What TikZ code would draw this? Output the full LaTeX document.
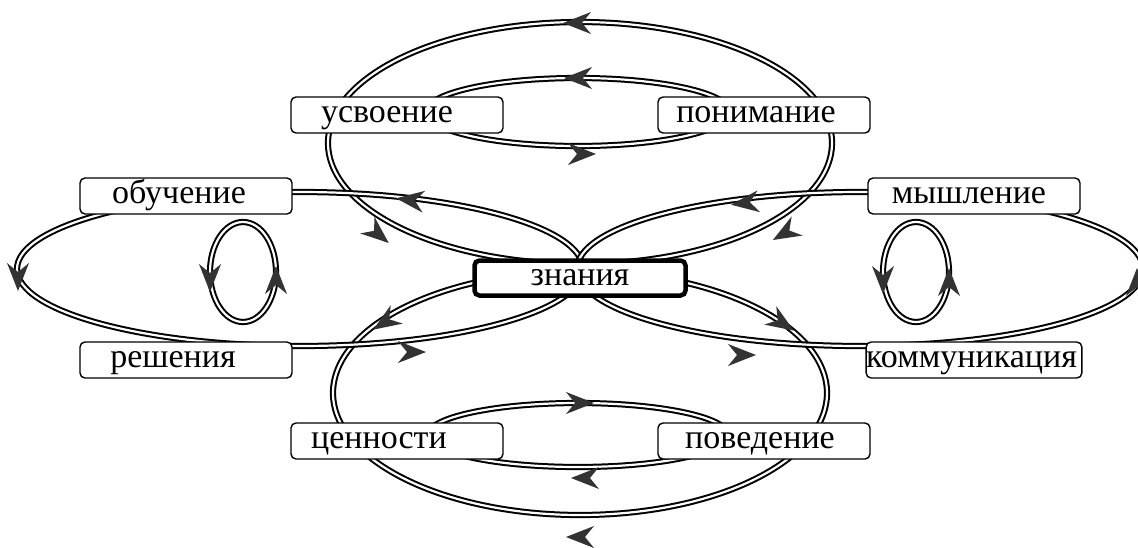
\documentclass[tikz,border=0pt]{standalone}
\usepackage{fontspec}
\setmainfont{Liberation Serif}
\usetikzlibrary{backgrounds}
\definecolor{arrowgray}{HTML}{333333}
\tikzset{
  dbl/.style={draw=black, line width=2pt, double=white, double distance=2.2pt},
  box/.style={draw=black, fill=white, rounded corners=5pt, line width=1.4pt,
    minimum width=212pt, minimum height=36pt, inner sep=0pt,
    text height=22pt, text depth=8pt,
    font=\fontsize{34}{38}\selectfont},
  mainbox/.style={box, line width=4.5pt, minimum width=211pt, minimum height=35pt},
  arrowhead/.pic={\fill[arrowgray] (14,0) -- (-14,11) -- (-5,0) -- (-14,-11) -- cycle;}
}
\begin{document}
\begin{tikzpicture}[x=1pt,y=-1pt]
\useasboundingbox (0,0) rectangle (1138,547);
\clip (0,0) rectangle (1138,547);
% nodes
\node[box] (usv) at (397,115) {усвоение\hspace*{20pt}};
\node[box] (pon) at (764,115) {понимание\hspace*{16pt}};
\node[box] (obu) at (186,196) {обучение\hspace*{14pt}};
\node[box] (mys) at (974,196) {мышление\hspace*{10pt}};
\node[mainbox] (zna) at (580,278) {знания};
\node[box] (res) at (186,360) {решения\hspace*{26pt}};
\node[box] (kom) at (974,360) {коммуникация\hspace*{5pt}};
\node[box] (cen) at (397,441) {ценности\hspace*{36pt}};
\node[box] (pov) at (764,441) {поведение\hspace*{8pt}};
% loop centres
\coordinate (ctop) at (580,143);
\coordinate (cbot) at (580,393);
\coordinate (cleft) at (300,269);
\coordinate (cright) at (860,269);
\coordinate (citop) at (578,112);
\coordinate (cibot) at (578,435);
\coordinate (ccl) at (243,272);
\coordinate (ccr) at (916,272);
\begin{pgfonlayer}{background}
\fill[white] (0,0) rectangle (1138,547);
\draw[dbl] (ctop) ellipse [x radius=252pt, y radius=121pt];
\draw[dbl] (cbot) ellipse [x radius=247pt, y radius=122pt];
\draw[dbl] (cleft) ellipse [x radius=283pt, y radius=77pt];
\draw[dbl] (cright) ellipse [x radius=283pt, y radius=77pt];
\draw[dbl] (citop) ellipse [x radius=152pt, y radius=34pt];
\draw[dbl] (cibot) ellipse [x radius=150pt, y radius=32pt];
\draw[dbl] (ccl) ellipse [x radius=33pt, y radius=50pt];
\draw[dbl] (ccr) ellipse [x radius=33pt, y radius=50pt];
\end{pgfonlayer}
% arrowheads
\pic[rotate=180] at (577,23) {arrowhead};
\pic[rotate=180] at (578,78) {arrowhead};
\pic[rotate=0] at (582,154) {arrowhead};
\pic[rotate=173] at (410,200) {arrowhead};
\pic[rotate=-40] at (378,234) {arrowhead};
\pic[rotate=187] at (745,203) {arrowhead};
\pic[rotate=-150] at (785,233) {arrowhead};
\pic[rotate=-90] at (18,277) {arrowhead};
\pic[rotate=90] at (1137,282) {arrowhead};
\pic[rotate=-90] at (210,278) {arrowhead};
\pic[rotate=90] at (276,280) {arrowhead};
\pic[rotate=-90] at (883,280) {arrowhead};
\pic[rotate=90] at (949,282) {arrowhead};
\pic[rotate=-147] at (385,322) {arrowhead};
\pic[rotate=0] at (412,352) {arrowhead};
\pic[rotate=-33] at (782,323) {arrowhead};
\pic[rotate=0] at (742,355) {arrowhead};
\pic[rotate=0] at (580,403) {arrowhead};
\pic[rotate=180] at (585,478) {arrowhead};
\pic[rotate=180] at (580,537) {arrowhead};
\end{tikzpicture}
\end{document}
